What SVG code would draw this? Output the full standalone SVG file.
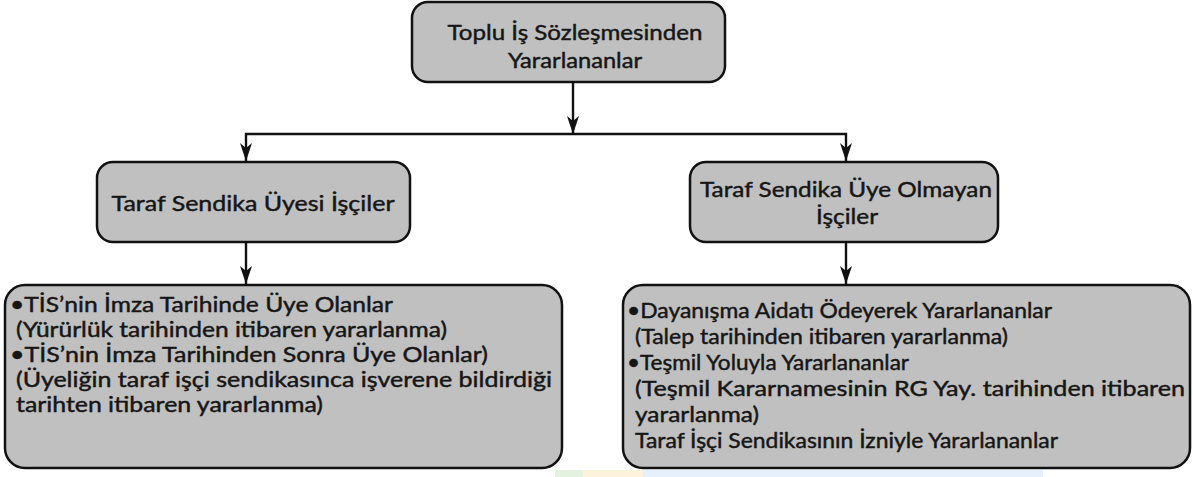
<svg xmlns="http://www.w3.org/2000/svg" width="1193" height="477" viewBox="0 0 1193 477">
<defs>
<marker id="ah" viewBox="0 0 18 12" refX="18" refY="6" markerWidth="18" markerHeight="12" markerUnits="userSpaceOnUse" orient="auto-start-reverse">
<path d="M0,0 L18,6 L0,12 L5,6 Z" fill="#111"/>
</marker>
<style>
.box{fill:#c0c0c0;stroke:#111;stroke-width:2.5}
.t{font-family:Lato,"Open Sans","Liberation Sans",sans-serif;font-size:21px;fill:#161616;stroke:#161616;stroke-width:0.45}
.h{font-size:22px}
.c{text-anchor:middle}
.ln{fill:none;stroke:#111;stroke-width:2.4}
</style>
</defs>
<rect width="1193" height="477" fill="#fff"/>
<g id="watermark">
<rect x="555" y="470" width="28" height="7" fill="#e3f2df"/>
<rect x="583" y="470" width="60" height="7" fill="#fdf3dc"/>
<rect x="643" y="470" width="400" height="7" fill="#e6f0fc"/>
</g>
<g id="connectors">
<path class="ln" d="M573,82 V134" marker-end="url(#ah)"/>
<path class="ln" d="M246,161 V134 H846 V161" marker-start="url(#ah)" marker-end="url(#ah)"/>
<path class="ln" d="M246,242 V284" marker-end="url(#ah)"/>
<path class="ln" d="M846,242 V284" marker-end="url(#ah)"/>
</g>
<g id="root">
<rect class="box" x="412" y="2" width="313" height="80" rx="16"/>
<text class="t h c" x="575" y="40" textLength="255" lengthAdjust="spacingAndGlyphs">Toplu İş Sözleşmesinden</text>
<text class="t h c" x="575" y="68" textLength="134" lengthAdjust="spacingAndGlyphs">Yararlananlar</text>
</g>
<g id="uyeler">
<rect class="box" x="97" y="162" width="313" height="80" rx="16"/>
<text class="t h c" x="253" y="211" textLength="283" lengthAdjust="spacingAndGlyphs">Taraf Sendika Üyesi İşçiler</text>
</g>
<g id="uye-olmayanlar">
<rect class="box" x="690" y="162" width="308" height="80" rx="16"/>
<text class="t h c" x="846" y="197" textLength="292" lengthAdjust="spacingAndGlyphs">Taraf Sendika Üye Olmayan</text>
<text class="t h c" x="847" y="224" textLength="62" lengthAdjust="spacingAndGlyphs">İşçiler</text>
</g>
<g id="uyeler-detay">
<rect class="box" x="5" y="285" width="557" height="183" rx="20"/>
<text class="t" x="10" y="312" textLength="383" lengthAdjust="spacingAndGlyphs">•TİS’nin İmza Tarihinde Üye Olanlar</text>
<text class="t" x="16" y="337" textLength="431" lengthAdjust="spacingAndGlyphs">(Yürürlük tarihinden itibaren yararlanma)</text>
<text class="t" x="10" y="362" textLength="478" lengthAdjust="spacingAndGlyphs">•TİS’nin İmza Tarihinden Sonra Üye Olanlar)</text>
<text class="t" x="16" y="387" textLength="536" lengthAdjust="spacingAndGlyphs">(Üyeliğin taraf işçi sendikasınca işverene bildirdiği</text>
<text class="t" x="16" y="412" textLength="307" lengthAdjust="spacingAndGlyphs">tarihten itibaren yararlanma)</text>
</g>
<g id="uye-olmayanlar-detay">
<rect class="box" x="623" y="285" width="567" height="183" rx="20"/>
<text class="t" x="627" y="318" textLength="425" lengthAdjust="spacingAndGlyphs">•Dayanışma Aidatı Ödeyerek Yararlananlar</text>
<text class="t" x="635" y="344" textLength="373" lengthAdjust="spacingAndGlyphs">(Talep tarihinden itibaren yararlanma)</text>
<text class="t" x="627" y="370" textLength="282" lengthAdjust="spacingAndGlyphs">•Teşmil Yoluyla Yararlananlar</text>
<text class="t" x="635" y="396" textLength="550" lengthAdjust="spacingAndGlyphs">(Teşmil Kararnamesinin RG Yay. tarihinden itibaren</text>
<text class="t" x="635" y="422" textLength="124" lengthAdjust="spacingAndGlyphs">yararlanma)</text>
<text class="t" x="635" y="448" textLength="423" lengthAdjust="spacingAndGlyphs">Taraf İşçi Sendikasının İzniyle Yararlananlar</text>
</g>
</svg>
